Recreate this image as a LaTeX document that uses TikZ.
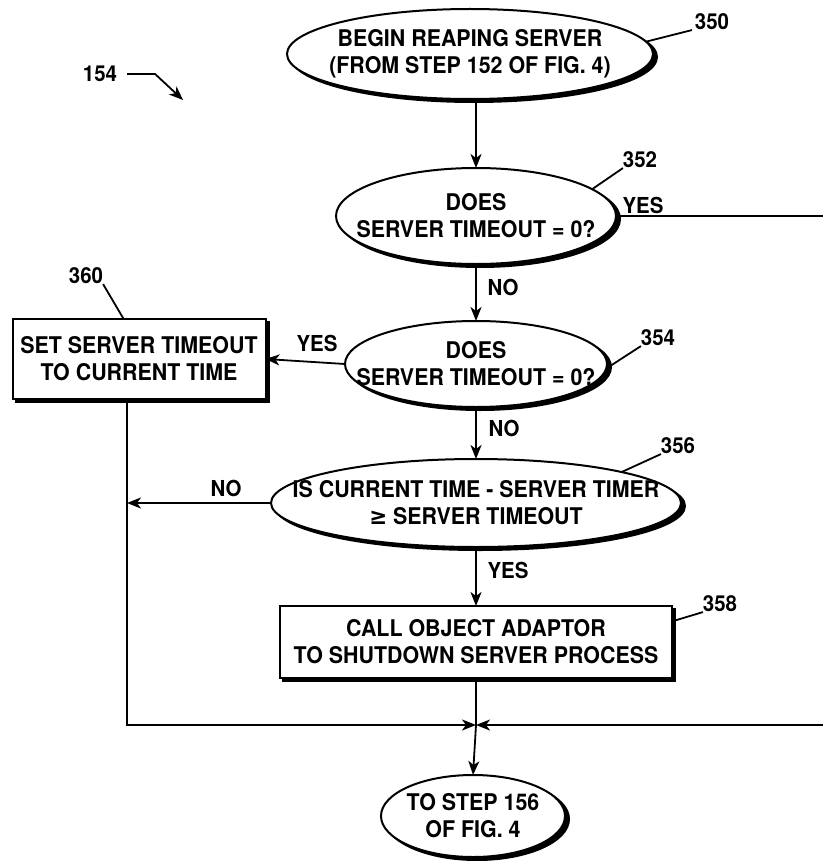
\documentclass[tikz,border=0pt]{standalone}
\usepackage{fontspec}
\setmainfont{TeX Gyre Heros}[FakeStretch=0.93]
\newfontfamily\symfont{DejaVu Sans}[FakeStretch=0.93]
\usetikzlibrary{shapes.geometric,arrows.meta}

% one centred line of zero width, so that the shape size is set by hand
\newcommand\ctr[1]{\makebox[0pt]{#1}}

\tikzset{
  oval/.style={ellipse, draw=black, line width=2pt, fill=white, align=center},
  stepbox/.style={rectangle, draw=black, line width=2pt, fill=white, align=center},
  shadow/.style={draw=black, fill=black},
  flow/.style={draw=black, line width=1.8pt},
  refnum/.style={font=\fontsize{22}{24}\selectfont\bfseries},
  branch/.style={font=\fontsize{22}{24}\selectfont\bfseries},
}

\begin{document}
\begin{tikzpicture}[y=1pt, x=1pt, yscale=-1, inner sep=0pt, outer sep=0pt,
  font=\fontsize{23}{27}\selectfont\bfseries, >={Stealth[length=14pt,width=11pt,inset=4pt]}]
\useasboundingbox (0,0) rectangle (822,861);

% shadows, offset down and right
\path (474,57) node[oval, shadow, minimum width=366, minimum height=90] (h350) {};
\path (480,219) node[oval, shadow, minimum width=280, minimum height=96] (h352) {};
\path (480,367) node[oval, shadow, minimum width=262, minimum height=86] (h354) {};
\path (480,506) node[oval, shadow, minimum width=410, minimum height=88] (h356) {};
\path (479,645) node[stepbox, shadow, minimum width=392, minimum height=72] (h358) {};
\path (142,362) node[stepbox, shadow, minimum width=253, minimum height=80] (h360) {};
\path (477,819) node[oval, shadow, minimum width=184, minimum height=82] (hEnd) {};

% steps of the flow
\path (470,54) node[oval, minimum width=366, minimum height=90] (s350)
  {\ctr{BEGIN REAPING SERVER}\\\ctr{(FROM STEP 152 OF FIG. 4)}};
\path (476,216) node[oval, minimum width=280, minimum height=96] (s352)
  {\ctr{DOES}\\\ctr{SERVER TIMEOUT = 0?}};
\path (476,364) node[oval, minimum width=262, minimum height=86] (s354)
  {\ctr{DOES}\\\ctr{SERVER TIMEOUT = 0?}};
\path (476,503) node[oval, minimum width=410, minimum height=88] (s356)
  {\ctr{IS CURRENT TIME - SERVER TIMER}\\\ctr{{\symfont\bfseries ≥} SERVER TIMEOUT}};
\path (476,642) node[stepbox, minimum width=392, minimum height=72] (s358)
  {\ctr{CALL OBJECT ADAPTOR}\\\ctr{TO SHUTDOWN SERVER PROCESS}};
\path (139,359) node[stepbox, minimum width=253, minimum height=80] (s360)
  {\ctr{SET SERVER TIMEOUT}\\\ctr{TO CURRENT TIME}};
\path (473,816) node[oval, minimum width=184, minimum height=82] (sEnd)
  {\ctr{TO STEP 156}\\\ctr{OF FIG. 4}};

% corner points of the merging lines
\coordinate (j) at (476,725);
\coordinate (lBot) at (127,725);
\coordinate (rTop) at (826,218);
\coordinate (rBot) at (826,725);
\coordinate (a154) at (183,100);

% connectors
\draw[flow,->] (s352.north |- s350.south) -- (s352.north);
\draw[flow,->] (s352.south) -- (s354.north);
\draw[flow,->] (s354.south) -- (s356.north);
\draw[flow,->] (s356.south) -- (s358.north);
\draw[flow,->] (s354.west) -- (s360.east);
\draw[flow,->] (s356.west) -- (s356.west -| lBot);
\draw[flow,->] (s360.south -| lBot) -- (lBot) -- (j);
\draw[flow,->] (s352.east) -- (s352.east -| rTop) -- (rBot) -- (j);
\draw[flow] (s358.south) -- (j);
\draw[flow,->] (j) -- (sEnd.north);

% branch labels
\path (643,205) node[branch] (y352) {YES};
\path (503,287) node[branch] (n352) {NO};
\path (317,343) node[branch] (y354) {YES};
\path (504,428) node[branch] (n354) {NO};
\path (226,488) node[branch] (n356) {NO};
\path (508,570) node[branch] (y356) {YES};

% reference numerals
\path (712,22) node[refnum] (l350) {350};
\path (100,74) node[refnum] (l154) {154};
\path (640,160) node[refnum] (l352) {352};
\path (658,338) node[refnum] (l354) {354};
\path (678,446) node[refnum] (l356) {356};
\path (720,604) node[refnum] (l358) {358};
\path (86,276) node[refnum] (l360) {360};

\draw[flow] ([xshift=-3pt]l350.south west) -- (s350.4);
\draw[flow] (l352.south west) -- (s352.13);
\draw[flow] (l354.south west) -- (s354.-2);
\draw[flow] (l356.south west) -- (s356.12);
\draw[flow] (l358.south west) -- (s358.6);
\draw[flow] (l360.south east) -- (s360.111);
\draw[flow,->] ([xshift=10pt]l154.east) -- ++(28,0) -- (a154);
\end{tikzpicture}
\end{document}
